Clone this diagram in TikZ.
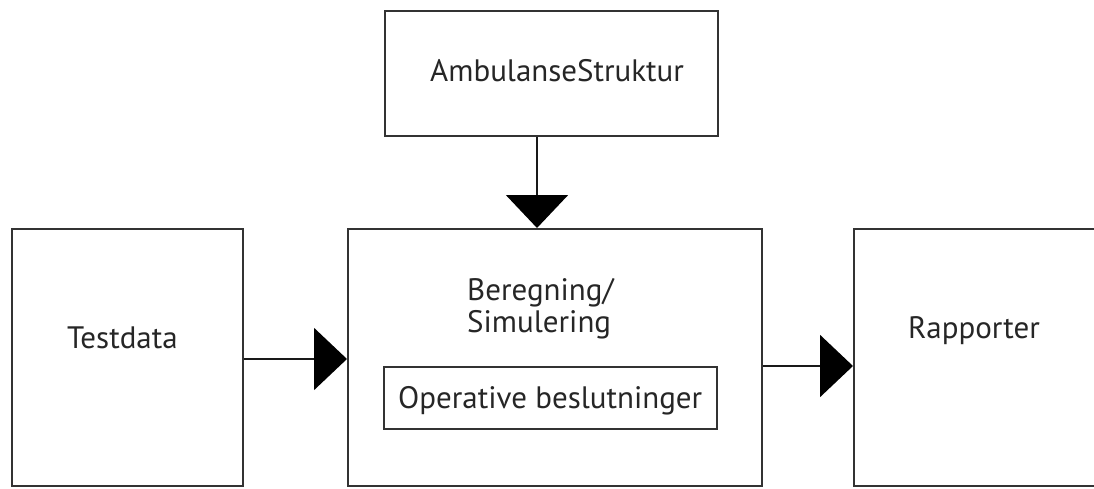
\documentclass[tikz,border=0pt]{standalone}
\usepackage{fontspec}
\setmainfont{PT Sans}
\usetikzlibrary{arrows.meta}
\begin{document}
\begin{tikzpicture}[x=1pt,y=-1pt,
  box/.style={draw=black!80,line width=2pt,minimum width=#1,inner sep=0pt},
  lbl/.style={inner sep=0pt,anchor=base west,font=\fontsize{31}{35}\selectfont,text=black!85},
  conn/.style={draw=black!90,line width=2pt,-{Triangle[length=33pt,width=62pt,fill=black,color=black]}}]
\useasboundingbox (0,0) rectangle (1094,489);
\clip (0,0) rectangle (1094,489);
\node[box=333pt,minimum height=125pt] (amb) at (551.5,73.5) {};
\node[box=231pt,minimum height=257pt] (td) at (127.5,357.5) {};
\node[box=414pt,minimum height=257pt] (ber) at (555,357.5) {};
\node[box=256pt,minimum height=257pt] (rap) at (982,357.5) {};
\node[box=333pt,minimum height=62pt] (op) at (550.5,398) {};
\node[lbl] (tamb) at (430,82) {AmbulanseStruktur};
\node[lbl] (ttd) at (67,348) {Testdata};
\node[lbl] (trap) at (908,338) {Rapporter};
\node[lbl] (tber) at (467,300) {Beregning/};
\node[lbl] (tsim) at (467,332) {Simulering};
\node[lbl] (top) at (398,408) {Operative beslutninger};
\draw[conn] ([xshift=-14.5pt]amb.south) -- ([xshift=-18pt]ber.north);
\draw[conn] ([yshift=-1.5pt]td.east) -- ([yshift=-1.5pt]td.east -| ber.west);
\draw[conn] ([yshift=-8.5pt]ber.east) -- ([yshift=-8.5pt]ber.east -| rap.west);
\end{tikzpicture}
\end{document}
